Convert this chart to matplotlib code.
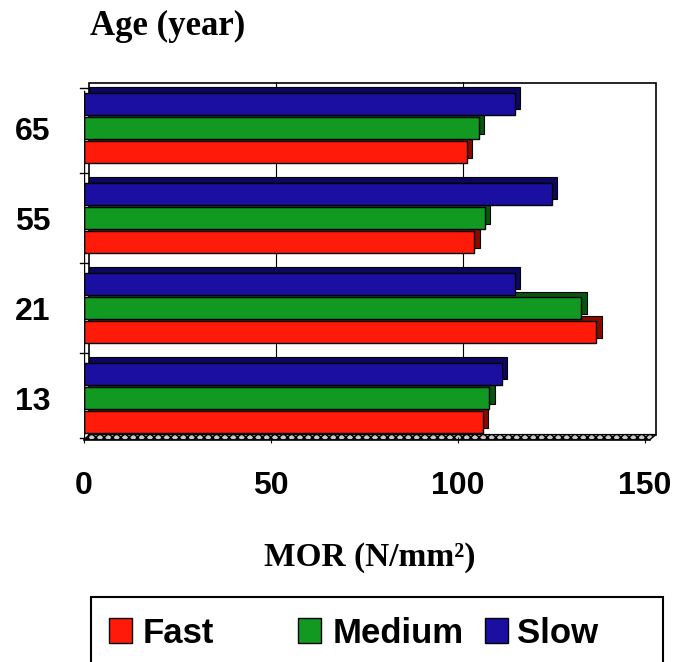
import matplotlib
matplotlib.use("Agg")
import matplotlib.pyplot as plt
from matplotlib.patches import Rectangle, Polygon
import numpy as np

ages = ["13", "21", "55", "65"]
series = ["Fast", "Medium", "Slow"]
fast = [106.7, 137.0, 104.4, 102.4]
medium = [108.4, 133.0, 107.2, 105.5]
slow = [111.8, 115.3, 125.0, 115.3]
colors = ["#ff1a0a", "#119922", "#1a0fa0"]
dark = ["#8a0a00", "#0a5510", "#0c0760"]
xticks = [0, 50, 100, 150]

W, H = 673, 662
fig = plt.figure(figsize=(W / 100, H / 100), dpi=100)
fig.patch.set_facecolor("white")

x0px, x150px = 84, 645
floor_px, top_px = 440, 82
xmax = (657 - x0px) / ((x150px - x0px) / 150)
ypx = 90.0
ymin = -(floor_px - 398) / ypx
ymax = (398 - top_px) / ypx
ax = fig.add_axes([x0px / W, 1 - floor_px / H, (657 - x0px) / W, (floor_px - top_px) / H])
ax.set_xlim(0, xmax)
ax.set_ylim(ymin, ymax)
for s in ax.spines.values():
    s.set_visible(False)

dx, dy = 1.4, 0.06  # 3D depth offset
# back wall
ax.add_patch(Rectangle((dx, ymin + dy), xmax - dx - 0.3, ymax - ymin - dy - 0.01,
                       facecolor="white", edgecolor="black", lw=1.2, zorder=0))
# floor band
ax.add_patch(Polygon([[0, ymin], [xmax - 2.0, ymin], [xmax - 0.3, ymin + dy], [dx, ymin + dy]],
                     closed=True, facecolor="#c8c8c8", edgecolor="black", lw=1.0,
                     hatch="xxxx", zorder=0.5))
# grid lines on back wall
for xv in [50, 100]:
    ax.plot([xv + dx, xv + dx], [ymin + dy, ymax], color="black", lw=0.8, zorder=0.6)

y = np.arange(len(ages))
offs = [-0.27, 0.0, 0.27]
h = 0.245
for vals, off, c, dc in zip([fast, medium, slow], offs, colors, dark):
    # depth face
    ax.barh(y + off + dy, vals, height=h, left=dx, color=dc, edgecolor="black", lw=0.8, zorder=1)
    ax.barh(y + off, vals, height=h, color=c, edgecolor="black", lw=1.0, zorder=2)

ax.set_yticks(y)
ax.set_yticklabels(ages, fontsize=23, fontweight="bold", family="Liberation Sans")
ax.set_xticks(xticks)
ax.set_xticklabels([str(v) for v in xticks], fontsize=23, fontweight="bold", family="Liberation Sans")
ax.tick_params(axis="y", length=0, pad=24)
ax.tick_params(axis="x", length=5, direction="inout", pad=20)
# front floor axis line and left axis
ax.plot([0, xmax - 2.0], [ymin, ymin], color="black", lw=1.2, zorder=3, clip_on=False)
ax.plot([0, 0], [ymin, ymax - 0.1], color="black", lw=1.0, zorder=3)
for yb in [-0.5 + 0.06, 0.5, 1.5, 2.5, 3.5 - 0.05]:
    ax.plot([-1.2, 1.2], [yb, yb], color="black", lw=1.0, zorder=3, clip_on=False)

fig.text(90 / W, 1 - 35 / H, "Age (year)", fontsize=25, fontweight="bold",
         family="Liberation Serif", ha="left", va="baseline")
fig.text(370 / W, 1 - 566 / H, "MOR (N/mm²)", fontsize=24, fontweight="bold",
         family="Liberation Serif", ha="center", va="baseline")

# legend box
fig.add_artist(Rectangle((91 / W, -0.01), (663 - 91) / W, (0.01 + 1 - 597 / H),
                         transform=fig.transFigure, facecolor="white", edgecolor="black",
                         lw=1.5))
sq_left = [109, 298, 485]
txt_left = [143, 333, 517]
for name, c, sx, tx in zip(series, colors, sq_left, txt_left):
    fig.add_artist(Rectangle((sx / W, 1 - 643 / H), 23 / W, 25 / H, transform=fig.transFigure,
                             facecolor=c, edgecolor="black", lw=1.0))
    fig.text(tx / W, 1 - 643 / H, name, fontsize=25, fontweight="bold",
             family="Liberation Sans", ha="left", va="baseline")

fig.savefig("out.png", dpi=100)
